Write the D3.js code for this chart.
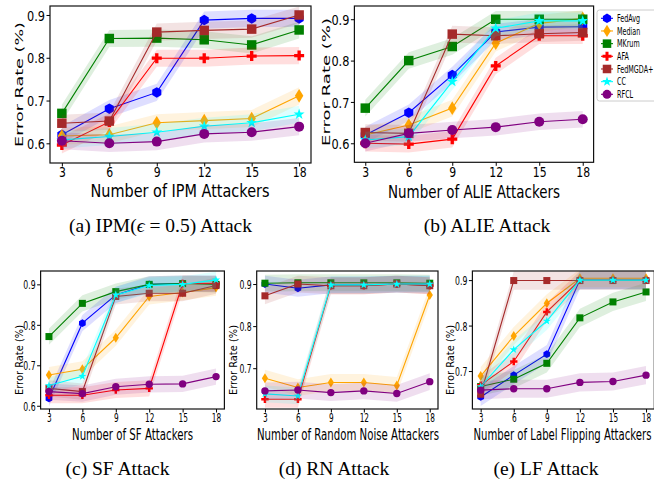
<!DOCTYPE html>
<html lang="en">
<head>
<meta charset="UTF-8">
<title>Error rate under attacks</title>
<script src="https://cdn.jsdelivr.net/npm/d3@7/dist/d3.min.js"></script>
<style>
    body { margin: 0; background: #fff; }
    svg { display: block; }
    text { font-family: "DejaVu Sans", sans-serif; fill: #000; }
    .caption { font-family: "Liberation Serif", "Times New Roman", serif; }
</style>
</head>
<body>
<svg id="fig" width="654" height="481"></svg>
<script>
// ---- data ----
const attackers = [3, 6, 9, 12, 15, 18];
const methods = ["FedAvg", "Median", "MKrum", "AFA", "FedMGDA+", "CC", "RFCL"];
const yTicksFull = [0.6, 0.7, 0.8, 0.9];
const yTicksHigh = [0.7, 0.8, 0.9];

// one row per method (same order as `methods`)
const ipmRates = [
    [0.620, 0.681, 0.719, 0.888, 0.892, 0.892],
    [0.617, 0.620, 0.648, 0.653, 0.658, 0.711],
    [0.670, 0.845, 0.846, 0.842, 0.830, 0.865],
    [0.596, 0.650, 0.799, 0.799, 0.804, 0.805],
    [0.647, 0.652, 0.860, 0.864, 0.867, 0.900],
    [0.608, 0.616, 0.626, 0.640, 0.648, 0.668],
    [0.606, 0.600, 0.604, 0.622, 0.626, 0.639]
];
const alieRates = [
    [0.620, 0.674, 0.765, 0.869, 0.881, 0.882],
    [0.620, 0.644, 0.685, 0.842, 0.890, 0.902],
    [0.685, 0.800, 0.834, 0.900, 0.900, 0.900],
    [0.600, 0.598, 0.610, 0.787, 0.860, 0.860],
    [0.626, 0.624, 0.864, 0.860, 0.865, 0.868],
    [0.608, 0.616, 0.749, 0.878, 0.896, 0.896],
    [0.600, 0.624, 0.632, 0.639, 0.652, 0.658]
];
const sfRates = [
    [0.618, 0.804, 0.874, 0.900, 0.902, 0.902],
    [0.676, 0.690, 0.768, 0.870, 0.880, 0.892],
    [0.771, 0.853, 0.882, 0.900, 0.902, 0.900],
    [0.626, 0.626, 0.639, 0.643, 0.902, 0.902],
    [0.643, 0.635, 0.870, 0.878, 0.878, 0.897],
    [0.650, 0.673, 0.874, 0.897, 0.900, 0.911],
    [0.635, 0.630, 0.647, 0.653, 0.654, 0.672]
];
const rnRates = [
    [0.900, 0.890, 0.898, 0.898, 0.900, 0.900],
    [0.676, 0.654, 0.666, 0.666, 0.659, 0.874],
    [0.902, 0.903, 0.903, 0.903, 0.903, 0.902],
    [0.626, 0.626, 0.896, 0.896, 0.900, 0.896],
    [0.872, 0.900, 0.896, 0.896, 0.900, 0.896],
    [0.639, 0.634, 0.898, 0.898, 0.900, 0.900],
    [0.646, 0.648, 0.642, 0.646, 0.640, 0.668]
];
const lfRates = [
    [0.643, 0.691, 0.737, 0.900, 0.900, 0.900],
    [0.689, 0.777, 0.849, 0.904, 0.904, 0.904],
    [0.666, 0.682, 0.717, 0.817, 0.852, 0.874],
    [0.669, 0.721, 0.830, 0.900, 0.900, 0.900],
    [0.649, 0.899, 0.899, 0.899, 0.899, 0.899],
    [0.666, 0.747, 0.810, 0.900, 0.900, 0.900],
    [0.658, 0.661, 0.661, 0.675, 0.677, 0.691]
];
const spread = 0.02; // half width of the shaded band

// ---- style ----
const colors = ["#0000ff", "#ffa500", "#008000", "#ff0000", "#a52a2a", "#00ffff", "#800080"];
const shapes = ["hexagon", "diamond", "square", "plus", "square", "star", "circle"];

const topRow = { tick: 14.5, tickK: 0.75, label: 18, yLabel: 16.5, ySquish: 0.68, msize: 10 };
const bottomRow = { tick: 12.3, tickK: 0.6, label: 15, yLabel: 11.5, ySquish: 0.95, msize: 7.4 };

const panels = [
    { rates: ipmRates, yTicks: yTicksFull, yDomain: [0.554, 0.921], box: [50, 6, 311, 163], s: topRow,
      xLabel: "Number of IPM Attackers", xl: [180, 197, 179], yl: [19, 84.5, 125], tickY: 177,
      caption: [160.5, 232], cap: ["(a) IPM(", "ϵ", " = 0.5) Attack"] },
    { rates: alieRates, yTicks: yTicksFull, yDomain: [0.554, 0.932], box: [354.4, 6, 593.6, 162.3], s: topRow,
      xLabel: "Number of ALIE Attackers", xl: [474, 198, 172], yl: [326, 82, 128], tickY: 177,
      caption: [487, 232], cap: ["(b) ALIE Attack"], legend: true },
    { rates: sfRates, yTicks: yTicksFull, yDomain: [0.592, 0.933], box: [40.6, 271, 224.4, 409], s: bottomRow,
      xLabel: "Number of SF Attackers", xl: [132.5, 440, 121], yl: [19.5, 360, 70], tickY: 422,
      caption: [117.5, 475], cap: ["(c) SF Attack"] },
    { rates: rnRates, yTicks: yTicksHigh, yDomain: [0.603, 0.931], box: [256.7, 271, 438, 409], s: bottomRow,
      xLabel: "Number of Random Noise Attackers", xl: [348, 440, 182], yl: [234, 360, 70], tickY: 422,
      caption: [334, 475], cap: ["(d) RN Attack"] },
    { rates: lfRates, yTicks: yTicksHigh, yDomain: [0.6165, 0.920], box: [472.4, 271, 654.3, 409], s: bottomRow,
      xLabel: "Number of Label Flipping Attackers", xl: [562.5, 440, 178], yl: [451, 360, 70], tickY: 422,
      caption: [546, 475], cap: ["(e) LF Attack"] }
];

// marker paths centred on 0,0, s = nominal size in px
function markerPath(shape, s) {
    const r = s / 2;
    if (shape === "circle") return d3.symbol(d3.symbolCircle, Math.PI * r * r)();
    if (shape === "square") return d3.symbol(d3.symbolSquare, s * s * 0.9)();
    if (shape === "plus") return d3.symbol(d3.symbolCross, 5 * (s / 3) * (s / 3))();
    let pts;
    if (shape === "hexagon") {
        pts = d3.range(6).map(k => {
            const a = Math.PI / 2 + k * Math.PI / 3;
            return [r * 1.05 * Math.cos(a), r * 1.05 * Math.sin(a)];
        });
    } else if (shape === "diamond") {
        const h = s * 0.68, w = s * 0.42;
        pts = [[0, -h], [w, 0], [0, h], [-w, 0]];
    } else { // star
        pts = d3.range(10).map(k => {
            const a = -Math.PI / 2 + k * Math.PI / 5;
            const rr = k % 2 ? r * 0.45 : r * 1.15;
            return [rr * Math.cos(a), rr * Math.sin(a)];
        });
    }
    return "M" + pts.map(p => p.join(",")).join("L") + "Z";
}

function condense(sel, k) {
    sel.each(function () {
        const w = this.getComputedTextLength();
        d3.select(this).attr("textLength", w * k).attr("lengthAdjust", "spacingAndGlyphs");
    });
}

const svg = d3.select("#fig");

panels.forEach((p, pi) => {
    const [x0, y0, x1, y1] = p.box;
    const x = d3.scaleLinear().domain([2.25, 18.75]).range([x0, x1]);
    const y = d3.scaleLinear().domain(p.yDomain).range([y1, y0]);
    const g = svg.append("g");

    g.append("clipPath").attr("id", "clip" + pi)
        .append("rect").attr("x", x0).attr("y", y0).attr("width", x1 - x0).attr("height", y1 - y0);

    const band = d3.area().x((d, i) => x(attackers[i]))
        .y0(d => y(d - spread)).y1(d => y(d + spread));
    const line = d3.line().x((d, i) => x(attackers[i])).y(d => y(d));

    methods.forEach((m, mi) => {
        const vals = p.rates[mi];
        g.append("path").attr("d", band(vals)).attr("fill", colors[mi])
            .attr("fill-opacity", 0.13).attr("clip-path", `url(#clip${pi})`);
        g.append("path").attr("d", line(vals)).attr("fill", "none")
            .attr("stroke", colors[mi]).attr("stroke-width", 1.1);
        g.selectAll(null).data(vals).join("path")
            .attr("transform", (d, i) => `translate(${x(attackers[i])},${y(d)})`)
            .attr("d", markerPath(shapes[mi], p.s.msize))
            .attr("fill", colors[mi]);
    });

    // frame
    g.append("rect").attr("x", x0).attr("y", y0).attr("width", x1 - x0).attr("height", y1 - y0)
        .attr("fill", "none").attr("stroke", "#111").attr("stroke-width", 1.2);

    const xa = g.append("g").attr("transform", `translate(0,${y1})`)
        .call(d3.axisBottom(x).tickValues(attackers).tickSize(3.5));
    xa.select(".domain").remove();
    xa.selectAll("text").attr("dy", null).attr("y", p.tickY - y1)
        .style("font-family", "DejaVu Sans").attr("font-size", p.s.tick).call(condense, p.s.tickK);

    const ya = g.append("g").attr("transform", `translate(${x0},0)`)
        .call(d3.axisLeft(y).tickValues(p.yTicks).tickFormat(d3.format(".1f")).tickSize(3.5).tickPadding(1.5));
    ya.select(".domain").remove();
    ya.selectAll("text").attr("dy", "0.36em")
        .style("font-family", "DejaVu Sans").attr("font-size", p.s.tick).call(condense, p.s.tickK + 0.03);

    g.append("text").attr("x", p.xl[0]).attr("y", p.xl[1]).attr("text-anchor", "middle")
        .attr("font-size", p.s.label).attr("textLength", p.xl[2]).attr("lengthAdjust", "spacingAndGlyphs")
        .text(p.xLabel);

    g.append("text")
        .attr("transform", `translate(${p.yl[0]},${p.yl[1]}) rotate(-90) scale(1,${p.s.ySquish})`)
        .attr("text-anchor", "middle").attr("dominant-baseline", "central")
        .attr("font-size", p.s.yLabel).attr("textLength", p.yl[2]).attr("lengthAdjust", "spacingAndGlyphs")
        .text("Error Rate (%)");

    const cap = g.append("text").attr("class", "caption").attr("x", p.caption[0]).attr("y", p.caption[1])
        .attr("text-anchor", "middle").attr("font-size", 19.5);
    p.cap.forEach((t, i) => {
        cap.append("tspan").attr("font-style", i === 1 ? "italic" : null).text(t);
    });

    if (p.legend) {
        const lg = g.append("g");
        lg.append("rect").attr("x", 597).attr("y", 10).attr("width", 70).attr("height", 91)
            .attr("rx", 2.5).attr("fill", "#fff").attr("fill-opacity", 0.85)
            .attr("stroke", "#ccc").attr("stroke-width", 1);
        methods.forEach((m, mi) => {
            const ly = 18.3 + mi * 12.67;
            lg.append("line").attr("x1", 601).attr("x2", 613).attr("y1", ly).attr("y2", ly)
                .attr("stroke", colors[mi]).attr("stroke-width", 1.1);
            lg.append("path").attr("transform", `translate(607,${ly})`)
                .attr("d", markerPath(shapes[mi], 9)).attr("fill", colors[mi]);
            lg.append("text").attr("x", 617).attr("y", ly).attr("dy", "0.36em")
                .attr("font-size", 10).text(m).call(condense, 0.64);
        });
    }
});
</script>
</body>
</html>
